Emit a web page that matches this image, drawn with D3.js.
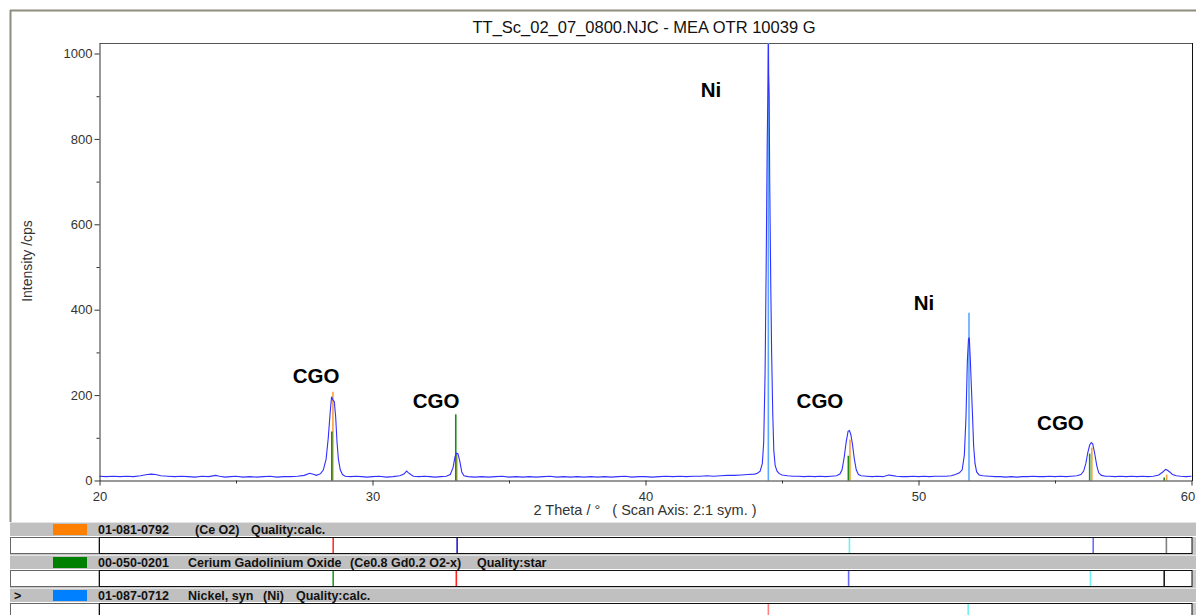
<!DOCTYPE html>
<html><head><meta charset="utf-8">
<script src="https://cdn.jsdelivr.net/npm/d3@7"></script>
<style>body{margin:0;background:#fff} svg{display:block}</style>
</head><body><svg id="c" width="1196" height="615"></svg>
<script>
const title = "TT_Sc_02_07_0800.NJC - MEA OTR 10039 G";
const xLabel = "2 Theta / °   ( Scan Axis: 2:1 sym. )";
const yLabel = "Intensity /cps";
const xTicks = [20, 30, 40, 50, 60];
const xMinorTicks = [25, 35, 45, 55];
const yTicks = [0, 200, 400, 600, 800, 1000];
const yMinorTicks = [100, 300, 500, 700, 900];

// measured scan (2theta, cps)
const scanTheta = [20.0,20.25,20.5,20.75,21.0,21.25,21.5,21.75,21.9,22.05,22.25,22.5,22.75,23.0,23.25,23.5,23.75,24.0,24.25,24.4,24.6,24.8,25.0,25.25,25.5,25.75,26.0,26.25,26.5,26.75,27.0,27.25,27.5,27.7,27.8,27.95,28.1,28.2,28.3,28.38,28.45,28.5,28.55,28.6,28.65,28.7,28.75,28.82,28.9,29.0,29.2,29.4,29.6,29.8,30.0,30.25,30.5,30.75,31.0,31.15,31.25,31.32,31.4,31.5,31.7,31.9,32.1,32.3,32.5,32.7,32.85,32.95,33.02,33.08,33.13,33.2,33.27,33.35,33.5,33.75,34.0,34.25,34.5,34.75,35.0,35.25,35.5,35.75,36.0,36.25,36.5,36.75,37.0,37.25,37.5,37.75,38.0,38.25,38.5,38.75,39.0,39.25,39.5,39.75,40.0,40.25,40.5,40.75,41.0,41.25,41.5,41.75,42.0,42.25,42.5,42.75,43.0,43.25,43.5,43.75,44.0,44.1,44.2,44.28,44.33,44.38,44.42,44.46,44.49,44.5,44.51,44.53,44.55,44.59,44.62,44.66,44.7,44.75,44.82,44.9,45.0,45.2,45.4,45.6,45.8,46.0,46.2,46.4,46.6,46.8,47.0,47.12,47.2,47.28,47.35,47.42,47.47,47.52,47.58,47.65,47.72,47.8,47.9,48.1,48.3,48.5,48.7,48.9,49.0,49.2,49.4,49.6,49.8,50.0,50.2,50.4,50.6,50.8,51.0,51.2,51.35,51.5,51.6,51.68,51.74,51.79,51.83,51.86,51.9,51.94,51.98,52.02,52.07,52.13,52.22,52.35,52.6,52.8,53.0,53.2,53.4,53.6,53.8,54.0,54.2,54.4,54.6,54.8,55.0,55.2,55.4,55.6,55.8,55.95,56.05,56.13,56.2,56.27,56.33,56.38,56.45,56.53,56.6,56.7,56.85,57.0,57.2,57.4,57.6,57.8,58.0,58.2,58.4,58.6,58.8,58.95,59.05,59.12,59.2,59.3,59.45,59.6,59.8,60.0];
const scanCounts = [10,9,10,9,10,9,11,14,15,14,11,10,9,10,9,8,10,9,12,10,8,9,10,8,9,8,9,10,8,9,9,10,12,17,15,12,16,25,50,100,160,196,188,185,150,90,50,25,14,10,9,10,9,8,9,10,8,9,11,15,22,18,14,10,9,10,9,8,9,10,14,30,55,64,63,45,20,11,9,8,9,8,9,10,8,9,8,9,8,9,10,8,9,8,9,8,9,8,9,8,9,10,8,9,9,8,9,10,9,10,9,10,10,11,10,11,12,12,13,14,15,17,22,40,90,250,500,800,940,1022,950,900,700,450,300,160,70,35,22,16,13,11,10,10,9,10,9,10,9,10,11,15,25,55,90,115,117,108,85,50,25,14,11,10,9,10,9,13,12,10,9,9,10,9,10,9,10,10,10,11,14,18,25,60,150,280,330,335,280,215,150,80,40,20,13,11,10,9,9,8,9,8,9,9,10,9,9,10,9,10,9,10,11,14,22,40,65,83,89,86,65,35,18,12,10,10,9,10,9,10,9,10,9,10,13,20,26,24,20,14,11,10,9,10];

// reference pattern sticks drawn in the plot
const ceo2Theta = [28.55, 33.09, 47.49, 56.35, 59.09];
const ceo2Height = [208, 61, 96, 77, 14];
const cgoTheta = [28.51, 33.05, 47.43, 56.27, 59.0];
const cgoHeight = [115, 155, 58, 63, 7];
const niTheta = [44.5, 51.85];
const niHeight = [1024, 393];

// peak annotations
const labelText = ["CGO", "CGO", "Ni", "CGO", "Ni", "CGO"];
const labelTheta = [27.93, 32.33, 42.40, 46.39, 50.20, 55.20];
const labelCps = [228, 170, 898, 170, 399, 118];

// phase list
const phaseCode = ["01-081-0792", "00-050-0201", "01-087-0712"];
const phaseName = ["", "Cerium Gadolinium Oxide", "Nickel, syn"];
const phaseFormula = ["(Ce O2)", "(Ce0.8 Gd0.2 O2-x)", "(Ni)"];
const phaseQuality = ["Quality:calc.", "Quality:star", "Quality:calc."];
const phaseColor = ["#ff8000", "#008000", "#0080ff"];
// marker lines in each phase strip
const stripTheta = [
  [28.56, 33.1, 47.47, 56.4, 59.08],
  [28.56, 33.07, 47.44, 56.3, 59.0],
  [44.5, 51.82]
];
const stripColor = [
  ["#ff3030", "#2020c0", "#70f0f0", "#6a6aff", "#808080"],
  ["#20a020", "#ff2020", "#6a6aff", "#70f0f0", "#202020"],
  ["#ff8080", "#70f0f0"]
];

const svg = d3.select("#c");
const W = 1196, H = 615;
const x = d3.scaleLinear().domain([20, 60]).range([99.5, 1191.5]);
const y = d3.scaleLinear().domain([0, 1024.6]).range([480.5, 43]);
const font = "Liberation Sans, Arial, sans-serif";

// outer frame
svg.append("line").attr("x1", 10).attr("x2", W).attr("y1", 10.5).attr("y2", 10.5).attr("stroke", "#8f8e7e").attr("stroke-width", 2);
svg.append("line").attr("x1", 10.5).attr("x2", 10.5).attr("y1", 10).attr("y2", 522).attr("stroke", "#8f8e7e").attr("stroke-width", 2);

// title
svg.append("text").attr("x", 644).attr("y", 33).attr("text-anchor", "middle")
  .attr("font-family", font).attr("font-size", 16.5).attr("fill", "#111").text(title);

// plot frame
svg.append("line").attr("x1", 99.5).attr("x2", 1192).attr("y1", 43.5).attr("y2", 43.5).attr("stroke", "#555").attr("stroke-width", 1);
svg.append("line").attr("x1", 1192.5).attr("x2", 1192.5).attr("y1", 43).attr("y2", 481).attr("stroke", "#111").attr("stroke-width", 1);

// sticks
const sticks = svg.append("g");
function drawSticks(th, hh, color) {
  sticks.selectAll(null).data(th.map((t, i) => [t, hh[i]])).enter().append("line")
    .attr("x1", d => x(d[0])).attr("x2", d => x(d[0]))
    .attr("y1", y(0)).attr("y2", d => y(d[1]))
    .attr("stroke", color).attr("stroke-width", 1.6);
}
drawSticks(niTheta, niHeight, "#5aa8ff");
drawSticks(ceo2Theta, ceo2Height, "#f8a040");
drawSticks(cgoTheta, cgoHeight, "#1a8a1a");

// scan line
const pts = scanTheta.map((t, i) => [t, scanCounts[i]]);
svg.append("path").datum(pts)
  .attr("d", d3.line().x(d => x(d[0])).y(d => y(d[1])))
  .attr("fill", "none").attr("stroke", "#3030ff").attr("stroke-width", 1.1);

// axes
const gx = svg.append("g").attr("transform", "translate(0,480.5)")
  .call(d3.axisBottom(x).tickValues(xTicks).tickFormat(d3.format("d")).tickSize(5).tickPadding(6).tickSizeOuter(0));
const gxm = svg.append("g").attr("transform", "translate(0,480.5)")
  .call(d3.axisBottom(x).tickValues(xMinorTicks).tickSize(3).tickFormat("").tickSizeOuter(0));
const gy = svg.append("g").attr("transform", "translate(99.5,0)")
  .call(d3.axisLeft(y).tickValues(yTicks).tickFormat(d3.format("d")).tickSize(5).tickPadding(2).tickSizeOuter(0));
const gym = svg.append("g").attr("transform", "translate(99.5,0)")
  .call(d3.axisLeft(y).tickValues(yMinorTicks).tickSize(3).tickFormat("").tickSizeOuter(0));
[gx, gxm, gy, gym].forEach(g => {
  g.selectAll("path,line").attr("stroke", "#333");
  g.selectAll("text").attr("font-family", font).attr("font-size", 13).attr("fill", "#333");
});
gxm.select(".domain").remove(); gym.select(".domain").remove();
// keep the last x label inside the window
gx.selectAll(".tick text").filter(d => d === 60).attr("dx", -4);

svg.append("text").attr("x", 645).attr("y", 515).attr("text-anchor", "middle")
  .attr("font-family", font).attr("font-size", 14.5).attr("fill", "#333")
  .style("white-space", "pre").text(xLabel);
svg.append("text").attr("transform", "translate(32,261) rotate(-90)").attr("text-anchor", "middle")
  .attr("font-family", font).attr("font-size", 14).attr("fill", "#333").text(yLabel);

// annotations
svg.append("g").selectAll("text").data(labelText.map((t, i) => [t, labelTheta[i], labelCps[i]]))
  .enter().append("text")
  .attr("x", d => x(d[1])).attr("y", d => y(d[2])).attr("text-anchor", "middle")
  .attr("font-family", font).attr("font-weight", "bold").attr("font-size", 20.5).attr("fill", "#000")
  .text(d => d[0]);

// phase panels
const textX = [[98, 188, 195, 251], [98, 188, 350, 477], [98, 188, 263, 296]];
phaseCode.forEach((code, i) => {
  const y0 = 522 + i * 33;
  const g = svg.append("g");
  g.append("rect").attr("x", 10).attr("y", y0).attr("width", W - 10).attr("height", 14).attr("fill", "#c0c0c0");
  g.append("line").attr("x1", 10).attr("x2", W).attr("y1", y0 + 0.5).attr("y2", y0 + 0.5).attr("stroke", "#e4e4e4");
  g.append("rect").attr("x", 53).attr("y", y0 + 2).attr("width", 34).attr("height", 11).attr("fill", phaseColor[i]);
  const tf = (tx, s) => g.append("text").attr("x", tx).attr("y", y0 + 11.5)
      .attr("font-family", font).attr("font-weight", "bold").attr("font-size", 12.5).attr("fill", "#111").text(s);
  tf(textX[i][0], code);
  if (phaseName[i]) tf(textX[i][1], phaseName[i]);
  tf(textX[i][2], phaseFormula[i]);
  tf(textX[i][3], phaseQuality[i]);
  if (i === 2) tf(14, ">");
  // strip
  const sy = y0 + 15;
  const sh = Math.min(16, H - sy);
  g.append("rect").attr("x", 10).attr("y", sy).attr("width", W - 10).attr("height", 18).attr("fill", "#c8c8c8");
  g.append("rect").attr("x", 10.5).attr("y", sy + 0.5).attr("width", 88.5).attr("height", sh).attr("fill", "#fff").attr("stroke", "#666");
  g.append("rect").attr("x", 99.5).attr("y", sy + 0.5).attr("width", 1092.5).attr("height", sh).attr("fill", "#fff").attr("stroke", "#111");
  g.selectAll(null).data(stripTheta[i].map((t, k) => [t, stripColor[i][k]])).enter().append("line")
    .attr("x1", d => x(d[0])).attr("x2", d => x(d[0]))
    .attr("y1", sy + 1).attr("y2", sy + sh)
    .attr("stroke", d => d[1]).attr("stroke-width", 1.6);
});
</script></body></html>
